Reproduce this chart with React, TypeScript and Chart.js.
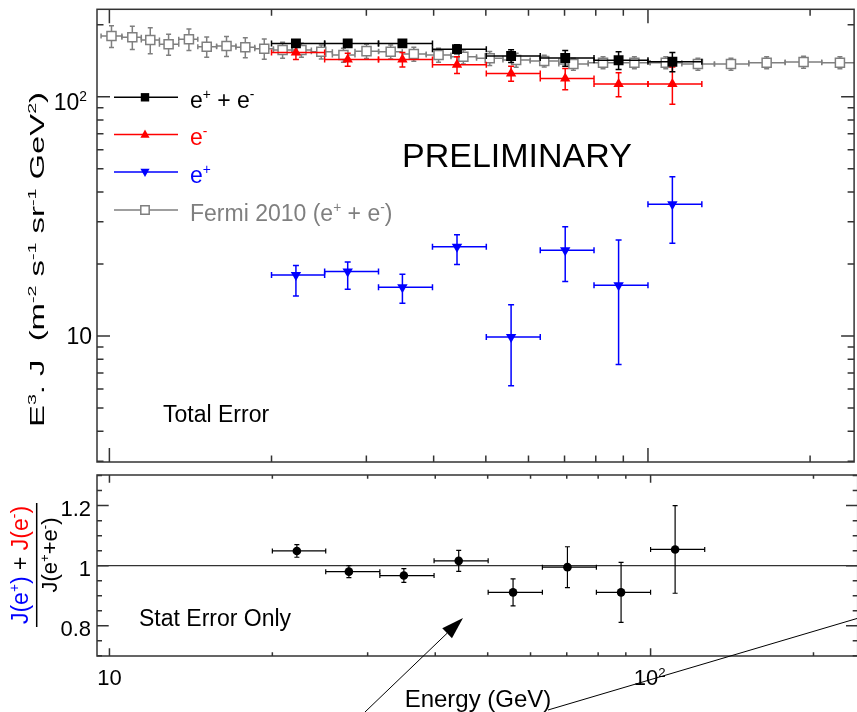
import React, { useEffect, useRef } from 'react';
import { Chart, registerables } from 'chart.js';

Chart.register(...registerables);

const FONT = '"Liberation Sans", Arial, Helvetica, sans-serif';

// ---------------- data ----------------
const binEdges = [20.0, 25.1, 31.6, 39.8, 50.1, 63.1, 79.4, 100.0, 125.9];
const binCenters = [22.2, 27.7, 35.0, 44.2, 55.7, 70.2, 88.2, 111.0];

const allFlux = [167, 167, 167, 158, 148, 145, 142, 140];
const allErr = [6, 6, 6, 7, 9, 11, 12, 13];

const electronFlux = [153, 143, 143, 136, 125, 119, 113, 113];
const electronErr = [10, 9, 10, 11, 9, 12, 13, 20];

const positronFlux = [18.0, 18.6, 16.0, 23.6, 9.9, 22.8, 16.3, 35.5];
const positronErrUp = [1.7, 1.8, 2.1, 2.9, 3.6, 5.8, 8.9, 10.8];
const positronErrDown = [3.3, 2.9, 2.3, 3.7, 3.7, 5.9, 8.7, 11.1];

const fermiEnergy = [10.09, 11.03, 11.91, 12.88, 14.05, 15.16, 16.5, 17.88, 19.39, 20.97, 22.73, 24.74, 27.2, 30.02, 33.29, 36.75, 40.85, 45.42, 50.84, 56.92, 64.18, 72.7, 82.52, 94.36, 107.9, 123.8, 142.6, 166.1, 194.5, 227.2];
const fermiFlux = [179.4, 177.1, 172.6, 165.6, 173.8, 161.8, 162.9, 160.9, 158.7, 156.7, 156.7, 154.2, 149.4, 155.0, 154.2, 150.8, 149.4, 146.9, 144.7, 142.3, 141.0, 137.0, 138.7, 138.7, 138.7, 137.0, 137.0, 138.7, 139.6, 138.7];
const fermiErr = [18.7, 19.6, 21.6, 16.7, 17.8, 15.6, 15.7, 15.5, 15.3, 12.1, 10.5, 10.4, 10.1, 10.5, 10.4, 10.2, 10.1, 9.9, 9.7, 9.6, 8.1, 7.9, 8.0, 8.0, 8.0, 7.9, 7.9, 8.0, 8.1, 8.0];

const ratioValues = [1.049, 0.98, 0.967, 1.016, 0.911, 0.995, 0.911, 1.054];
const ratioErr = [0.021, 0.02, 0.023, 0.035, 0.045, 0.068, 0.1, 0.146];

const xTickValues = [10, 100];
const xTickLabels = [['10', ''], ['10', '2']];
const yTopTickValues = [100, 10];
const yTopTickLabels = [['10', '2'], ['10', '']];
const yRatioTickValues = [1.2, 1.0, 0.8];
const yRatioTickLabels = ['1.2', '1', '0.8'];

const X_MIN = 9.484;
const X_MAX = 241.4;
const Y_MIN = 2.976;
const Y_MAX = 231.8;
const R_MIN = 0.699;
const R_MAX = 1.302;

// ---------------- helpers ----------------
const BLUE = '#0000ff';
const RED = '#ff0000';
const GRAY = '#7f7f7f';
const AXIS = '#333333';

type Part = { t: string; sup?: boolean; color?: string };

function richWidth(ctx: CanvasRenderingContext2D, parts: Part[], size: number) {
  let w = 0;
  for (const p of parts) {
    ctx.font = `${p.sup ? size * 0.6 : size}px ${FONT}`;
    w += ctx.measureText(p.t).width;
  }
  return w;
}

function drawRich(ctx: CanvasRenderingContext2D, parts: Part[], x: number, y: number, size: number, color: string, align: 'left' | 'right' | 'center' = 'left') {
  const w = richWidth(ctx, parts, size);
  let cx = align === 'left' ? x : align === 'right' ? x - w : x - w / 2;
  ctx.textBaseline = 'alphabetic';
  ctx.textAlign = 'left';
  for (const p of parts) {
    const s = p.sup ? size * 0.6 : size;
    ctx.font = `${s}px ${FONT}`;
    ctx.fillStyle = p.color || color;
    ctx.fillText(p.t, cx, p.sup ? y - size * 0.38 : y);
    cx += ctx.measureText(p.t).width;
  }
  return w;
}

function logTicks(min: number, max: number) {
  const out: { v: number; major: boolean }[] = [];
  for (let d = Math.floor(Math.log10(min)); d <= Math.ceil(Math.log10(max)); d++) {
    for (let m = 1; m <= 9; m++) {
      const v = m * Math.pow(10, d);
      if (v >= min && v <= max) out.push({ v, major: m === 1 });
    }
  }
  return out;
}

function drawMarker(ctx: CanvasRenderingContext2D, style: string, x: number, y: number, r: number, fill: string, stroke: string) {
  ctx.beginPath();
  if (style === 'square') {
    ctx.rect(x - r, y - r, 2 * r, 2 * r);
  } else if (style === 'up') {
    ctx.moveTo(x, y - r * 1.1);
    ctx.lineTo(x + r, y + r * 0.7);
    ctx.lineTo(x - r, y + r * 0.7);
    ctx.closePath();
  } else {
    ctx.moveTo(x, y + r * 1.1);
    ctx.lineTo(x + r, y - r * 0.7);
    ctx.lineTo(x - r, y - r * 0.7);
    ctx.closePath();
  }
  ctx.fillStyle = fill;
  ctx.fill();
  if (stroke) {
    ctx.strokeStyle = stroke;
    ctx.lineWidth = 1.5;
    ctx.stroke();
  }
}

// bin edges for Fermi points (geometric midpoints between neighbours)
const fermiLo = fermiEnergy.map((e, i) =>
  i > 0 ? Math.sqrt(fermiEnergy[i - 1] * e) : (e * e) / Math.sqrt(e * fermiEnergy[1]));
const fermiHi = fermiEnergy.map((e, i) =>
  i < fermiEnergy.length - 1 ? Math.sqrt(e * fermiEnergy[i + 1]) : (e * e) / Math.sqrt(e * fermiEnergy[i - 1]));

const binLo = binEdges.slice(0, -1);
const binHi = binEdges.slice(1);

const errorBarPlugin = {
  id: 'errorBars',
  beforeDatasetDraw(chart: any, args: any) {
    const ds = chart.data.datasets[args.index];
    const eb = ds.errorBars;
    if (!eb) return;
    const ctx: CanvasRenderingContext2D = chart.ctx;
    const xs = chart.scales.x;
    const ys = chart.scales.y;
    const a = chart.chartArea;
    ctx.save();
    ctx.beginPath();
    ctx.rect(a.left, a.top, a.right - a.left, a.bottom - a.top);
    ctx.clip();
    ctx.strokeStyle = eb.color;
    ctx.lineWidth = eb.lineWidth;
    const c = eb.cap;
    ds.data.forEach((d: any, i: number) => {
      const px = xs.getPixelForValue(d.x);
      const py = ys.getPixelForValue(d.y);
      const x1 = xs.getPixelForValue(eb.xLo[i]);
      const x2 = xs.getPixelForValue(eb.xHi[i]);
      const y1 = ys.getPixelForValue(eb.yLo[i]);
      const y2 = ys.getPixelForValue(eb.yHi[i]);
      ctx.beginPath();
      ctx.moveTo(x1, py); ctx.lineTo(x2, py);
      ctx.moveTo(px, y1); ctx.lineTo(px, y2);
      ctx.moveTo(x1, py - c); ctx.lineTo(x1, py + c);
      ctx.moveTo(x2, py - c); ctx.lineTo(x2, py + c);
      ctx.moveTo(px - c, y1); ctx.lineTo(px + c, y1);
      ctx.moveTo(px - c, y2); ctx.lineTo(px + c, y2);
      ctx.stroke();
    });
    ctx.restore();
  },
};

const legendRows = [
  { parts: [{ t: 'e' }, { t: '+', sup: true }, { t: ' + e' }, { t: '-', sup: true }], color: '#000000', marker: 'square', fill: '#000000', stroke: '' },
  { parts: [{ t: 'e' }, { t: '-', sup: true }], color: RED, marker: 'up', fill: RED, stroke: '' },
  { parts: [{ t: 'e' }, { t: '+', sup: true }], color: BLUE, marker: 'down', fill: BLUE, stroke: '' },
  { parts: [{ t: 'Fermi 2010 (e' }, { t: '+', sup: true }, { t: ' + e' }, { t: '-', sup: true }, { t: ')' }], color: GRAY, marker: 'square', fill: '#ffffff', stroke: GRAY },
];

const topDecor = {
  id: 'topDecor',
  afterDraw(chart: any) {
    const ctx: CanvasRenderingContext2D = chart.ctx;
    const a = chart.chartArea;
    const x = chart.scales.x;
    const y = chart.scales.y;
    ctx.save();
    // frame
    ctx.strokeStyle = AXIS;
    ctx.lineWidth = 1.5;
    ctx.strokeRect(a.left, a.top, a.right - a.left, a.bottom - a.top);
    ctx.beginPath();
    for (const t of logTicks(X_MIN, X_MAX)) {
      const px = x.getPixelForValue(t.v);
      const L = t.major ? 14 : 6.5;
      ctx.moveTo(px, a.bottom); ctx.lineTo(px, a.bottom - L);
      ctx.moveTo(px, a.top); ctx.lineTo(px, a.top + L);
    }
    for (const t of logTicks(Y_MIN, Y_MAX)) {
      const py = y.getPixelForValue(t.v);
      const L = t.major ? 13 : 6.5;
      ctx.moveTo(a.left, py); ctx.lineTo(a.left + L, py);
      ctx.moveTo(a.right, py); ctx.lineTo(a.right - L, py);
    }
    ctx.stroke();

    // y tick labels
    yTopTickValues.forEach((v, i) => {
      const py = y.getPixelForValue(v);
      const [base, sup] = yTopTickLabels[i];
      const parts: Part[] = [{ t: base }];
      if (sup) parts.push({ t: sup, sup: true });
      drawRich(ctx, parts, sup ? 87 : 92, py + (sup ? 13.3 : 8), 23, '#000', 'right');
    });

    // y axis title (rotated)
    const titleParts: Part[] = [
      { t: 'E' }, { t: '3', sup: true }, { t: '. J  (m' }, { t: '-2', sup: true }, { t: ' s' },
      { t: '-1', sup: true }, { t: ' sr' }, { t: '-1', sup: true }, { t: ' GeV' }, { t: '2', sup: true }, { t: ')' },
    ];
    ctx.save();
    ctx.translate(43.5, 259.5);
    ctx.rotate(-Math.PI / 2);
    const tw = richWidth(ctx, titleParts, 19.5);
    ctx.scale(335 / tw, 1);
    drawRich(ctx, titleParts, 0, 0, 19.5, '#000', 'center');
    ctx.restore();

    // legend
    const rowY = [97.3, 134.5, 172, 210];
    legendRows.forEach((row, i) => {
      const ly = rowY[i];
      ctx.strokeStyle = row.stroke || row.fill;
      ctx.lineWidth = 1.5;
      ctx.beginPath();
      ctx.moveTo(114, ly); ctx.lineTo(178, ly);
      ctx.stroke();
      drawMarker(ctx, row.marker, 145, ly, row.marker === 'square' ? 4.2 : 4.6, row.fill, row.stroke);
      drawRich(ctx, row.parts as Part[], 190, ly + 10.5, 23, row.color, 'left');
    });

    // texts
    ctx.fillStyle = '#000';
    ctx.font = `34px ${FONT}`;
    ctx.textAlign = 'left';
    ctx.textBaseline = 'alphabetic';
    ctx.fillText('PRELIMINARY', 402, 167);
    ctx.font = `23px ${FONT}`;
    ctx.fillText('Total Error', 163, 421.7);
    ctx.restore();
  },
};

const bottomDecor = {
  id: 'bottomDecor',
  beforeDatasetsDraw(chart: any) {
    const ctx: CanvasRenderingContext2D = chart.ctx;
    const a = chart.chartArea;
    const y = chart.scales.y;
    const py = y.getPixelForValue(1);
    ctx.save();
    ctx.strokeStyle = AXIS;
    ctx.lineWidth = 1.2;
    ctx.beginPath();
    ctx.moveTo(a.left, py); ctx.lineTo(a.right, py);
    ctx.stroke();
    ctx.restore();
  },
  afterDraw(chart: any) {
    const ctx: CanvasRenderingContext2D = chart.ctx;
    const a = chart.chartArea;
    const x = chart.scales.x;
    const y = chart.scales.y;
    ctx.save();
    ctx.strokeStyle = AXIS;
    ctx.lineWidth = 1.5;
    ctx.strokeRect(a.left, a.top, a.right - a.left, a.bottom - a.top);
    ctx.beginPath();
    for (const t of logTicks(X_MIN, X_MAX)) {
      const px = x.getPixelForValue(t.v);
      const L = t.major ? 7.7 : 3.7;
      ctx.moveTo(px, a.bottom); ctx.lineTo(px, a.bottom - L);
      ctx.moveTo(px, a.top); ctx.lineTo(px, a.top + L);
    }
    for (let k = 0; k <= 12; k++) {
      const v = 0.7 + k * 0.05;
      if (v < R_MIN || v > R_MAX) continue;
      const py = y.getPixelForValue(v);
      const major = k === 2 || k === 6 || k === 10;
      const L = major ? 11.7 : 5;
      ctx.moveTo(a.left, py); ctx.lineTo(a.left + L, py);
      ctx.moveTo(a.right, py); ctx.lineTo(a.right - L, py);
    }
    ctx.stroke();

    // x tick labels
    xTickValues.forEach((v, i) => {
      const px = x.getPixelForValue(v);
      const [base, sup] = xTickLabels[i];
      const parts: Part[] = [{ t: base }];
      if (sup) parts.push({ t: sup, sup: true });
      drawRich(ctx, parts, px - (sup ? 1 : 0), a.bottom + 29, 22, '#000', 'center');
    });
    // y tick labels
    yRatioTickValues.forEach((v, i) => {
      const py = y.getPixelForValue(v);
      drawRich(ctx, [{ t: yRatioTickLabels[i] }], 91, py + 10, 22, '#000', 'right');
    });

    // x axis title
    ctx.fillStyle = '#000';
    ctx.font = `24px ${FONT}`;
    ctx.textAlign = 'center';
    ctx.textBaseline = 'alphabetic';
    ctx.fillText('Energy (GeV)', 478, 236.5);

    // Stat Error Only
    ctx.textAlign = 'left';
    ctx.font = `23px ${FONT}`;
    ctx.fillText('Stat Error Only', 139, 156);

    // fraction y label
    const num: Part[] = [
      { t: 'J(e', color: BLUE }, { t: '+', sup: true, color: BLUE }, { t: ')', color: BLUE },
      { t: ' + ' },
      { t: 'J(e', color: RED }, { t: '-', sup: true, color: RED }, { t: ')', color: RED },
    ];
    const den: Part[] = [{ t: 'J(e' }, { t: '+', sup: true }, { t: '+e' }, { t: '-', sup: true }, { t: ')' }];
    ctx.save();
    ctx.translate(28, 95);
    ctx.rotate(-Math.PI / 2);
    drawRich(ctx, num, 0, 0, 23, '#000', 'center');
    ctx.restore();
    ctx.save();
    ctx.translate(57, 85);
    ctx.rotate(-Math.PI / 2);
    drawRich(ctx, den, 0, 0, 22, '#000', 'center');
    ctx.restore();
    ctx.strokeStyle = '#000';
    ctx.lineWidth = 1.5;
    ctx.beginPath();
    ctx.moveTo(36.7, 33); ctx.lineTo(36.7, 157);
    ctx.stroke();

    // annotation arrow and line
    const sx = 365, sy = 242, tx = 463, ty = 148;
    const dx = tx - sx, dy = ty - sy;
    const len = Math.hypot(dx, dy);
    const ux = dx / len, uy = dy / len;
    const bx = tx - 22 * ux, by = ty - 22 * uy;
    ctx.lineWidth = 1;
    ctx.beginPath();
    ctx.moveTo(sx, sy); ctx.lineTo(bx, by);
    ctx.stroke();
    ctx.beginPath();
    ctx.moveTo(tx, ty);
    ctx.lineTo(bx - 7 * uy, by + 7 * ux);
    ctx.lineTo(bx + 7 * uy, by - 7 * ux);
    ctx.closePath();
    ctx.fillStyle = '#000';
    ctx.fill();
    ctx.beginPath();
    ctx.moveTo(548, 240); ctx.lineTo(862, 147);
    ctx.stroke();
    ctx.restore();
  },
};

export default function App() {
  const topRef = useRef<HTMLCanvasElement>(null);
  const botRef = useRef<HTMLCanvasElement>(null);

  useEffect(() => {
    const top = new Chart(topRef.current as HTMLCanvasElement, {
      type: 'scatter',
      data: {
        datasets: [
          {
            label: 'e+ + e-',
            data: binCenters.map((e, i) => ({ x: e, y: allFlux[i] })),
            pointStyle: 'rect', pointRadius: 7, backgroundColor: '#000', borderColor: '#000', borderWidth: 0,
            order: 0,
            errorBars: { xLo: binLo, xHi: binHi, yLo: allFlux.map((v, i) => v - allErr[i]), yHi: allFlux.map((v, i) => v + allErr[i]), color: '#000', lineWidth: 1.5, cap: 3 },
          } as any,
          {
            label: 'e-',
            data: binCenters.map((e, i) => ({ x: e, y: electronFlux[i] })),
            pointStyle: 'triangle', pointRadius: 6, backgroundColor: RED, borderColor: RED, borderWidth: 0,
            order: 1,
            errorBars: { xLo: binLo, xHi: binHi, yLo: electronFlux.map((v, i) => v - electronErr[i]), yHi: electronFlux.map((v, i) => v + electronErr[i]), color: RED, lineWidth: 1.5, cap: 3 },
          } as any,
          {
            label: 'e+',
            data: binCenters.map((e, i) => ({ x: e, y: positronFlux[i] })),
            pointStyle: 'triangle', rotation: 180, pointRadius: 6, backgroundColor: BLUE, borderColor: BLUE, borderWidth: 0,
            order: 2,
            errorBars: { xLo: binLo, xHi: binHi, yLo: positronFlux.map((v, i) => v - positronErrDown[i]), yHi: positronFlux.map((v, i) => v + positronErrUp[i]), color: BLUE, lineWidth: 1.5, cap: 3 },
          } as any,
          {
            label: 'Fermi 2010 (e+ + e-)',
            data: fermiEnergy.map((e, i) => ({ x: e, y: fermiFlux[i] })),
            pointStyle: 'rect', pointRadius: 6.4, backgroundColor: '#ffffff', borderColor: GRAY, borderWidth: 1.5,
            order: 3,
            errorBars: { xLo: fermiLo, xHi: fermiHi, yLo: fermiFlux.map((v, i) => v - fermiErr[i]), yHi: fermiFlux.map((v, i) => v + fermiErr[i]), color: GRAY, lineWidth: 1.5, cap: 2.5 },
          } as any,
        ],
      },
      options: {
        animation: false,
        responsive: false,
        events: [],
        layout: { padding: { left: 97, right: 1, top: 9.3, bottom: 8 } },
        scales: {
          x: { type: 'logarithmic', min: X_MIN, max: X_MAX, display: false },
          y: { type: 'logarithmic', min: Y_MIN, max: Y_MAX, display: false },
        },
        plugins: { legend: { display: false }, tooltip: { enabled: false } },
      },
      plugins: [errorBarPlugin, topDecor],
    });

    const bottom = new Chart(botRef.current as HTMLCanvasElement, {
      type: 'scatter',
      data: {
        datasets: [
          {
            label: 'ratio',
            data: binCenters.map((e, i) => ({ x: e, y: ratioValues[i] })),
            pointStyle: 'circle', pointRadius: 4.3, backgroundColor: '#000', borderColor: '#000', borderWidth: 0,
            errorBars: { xLo: binLo, xHi: binHi, yLo: ratioValues.map((v, i) => v - ratioErr[i]), yHi: ratioValues.map((v, i) => v + ratioErr[i]), color: '#000', lineWidth: 1.2, cap: 2.5 },
          } as any,
        ],
      },
      options: {
        animation: false,
        responsive: false,
        events: [],
        layout: { padding: { left: 97, right: 1, top: 5, bottom: 56 } },
        scales: {
          x: { type: 'logarithmic', min: X_MIN, max: X_MAX, display: false },
          y: { type: 'linear', min: R_MIN, max: R_MAX, display: false },
        },
        plugins: { legend: { display: false }, tooltip: { enabled: false } },
      },
      plugins: [errorBarPlugin, bottomDecor],
    });

    return () => {
      top.destroy();
      bottom.destroy();
    };
  }, []);

  return (
    <div style={{ position: 'absolute', left: 0, top: 0, width: 857, height: 712, overflow: 'hidden', background: '#ffffff' }}>
      <canvas ref={topRef} width={862} height={470} style={{ position: 'absolute', left: 0, top: 0, width: 862, height: 470 }} />
      <canvas ref={botRef} width={862} height={242} style={{ position: 'absolute', left: 0, top: 470, width: 862, height: 242 }} />
    </div>
  );
}
